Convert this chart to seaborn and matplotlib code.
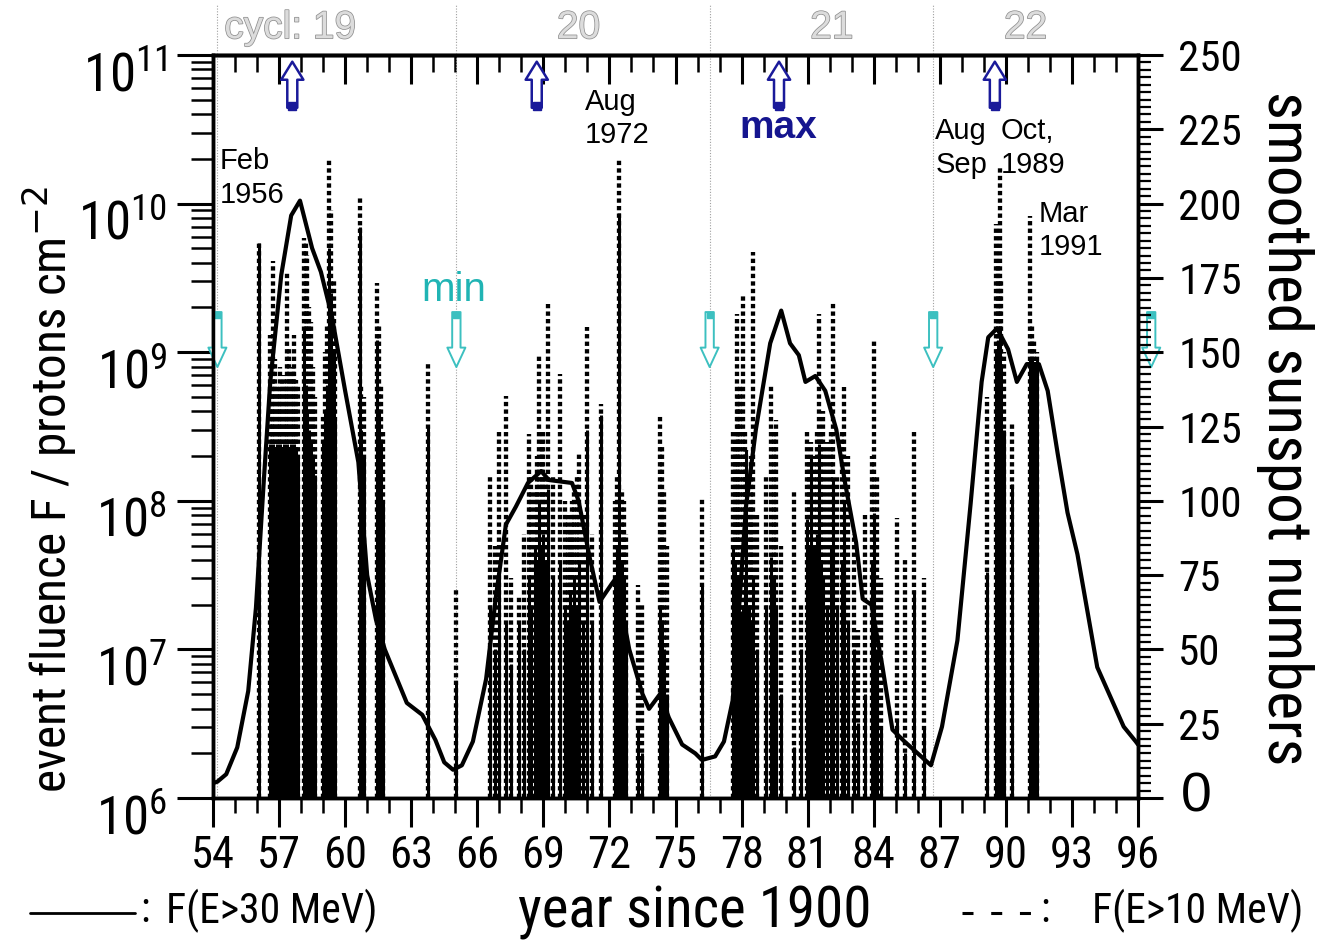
import numpy as np
import pandas as pd
import matplotlib
matplotlib.use('Agg')
import matplotlib.pyplot as plt
import matplotlib.patheffects as pe
from matplotlib import font_manager
from matplotlib.font_manager import FontProperties
from matplotlib.lines import Line2D
from matplotlib.transforms import ScaledTranslation
import seaborn as sns

# ── Smoothed sunspot number (right axis) ─────────────────────
ssn_year = [54.0, 54.2, 54.6, 55.1, 55.6, 55.95, 56.3, 56.6, 57.1, 57.55,
            57.95, 58.5, 58.9, 59.4, 60.0, 60.6, 61.0, 61.4, 61.8, 62.3,
            62.8, 63.5, 64.1, 64.5, 64.9, 65.3, 65.8, 66.4, 66.85, 67.3,
            67.75, 68.3, 68.9, 69.25, 70.3, 70.6, 71.1, 71.55, 72.1, 72.3,
            72.9, 73.5, 73.8, 74.3, 74.7, 75.3, 75.9, 76.2, 76.8, 77.2,
            77.6, 78.2, 78.65, 79.3, 79.8, 80.2, 80.6, 80.9, 81.35, 81.8,
            82.3, 82.7, 83.2, 83.5, 83.9, 84.4, 84.85, 85.4, 86.0, 86.6,
            87.1, 87.8, 88.4, 88.9, 89.2, 89.6, 90.1, 90.5, 90.95, 91.5,
            91.9, 92.35, 92.8, 93.25, 93.7, 94.15, 94.75, 95.35, 95.9, 96.0]
ssn_value = [5, 5.5, 8, 17, 36, 64, 106, 140, 176, 196,
             201, 185, 177, 162, 137, 113, 75, 60, 50, 41,
             32, 28, 19.5, 12, 9.5, 11, 19, 40, 68, 92,
             98, 106, 110, 107, 106, 100, 81, 66, 72, 74,
             50, 35, 30, 35, 27, 18, 15, 12.8, 14, 19,
             33, 98, 124, 153, 164, 153, 149, 140, 142, 137,
             124, 106, 86, 67, 65, 44, 23, 19, 15, 11,
             24, 53, 99, 140, 155, 158, 151, 140, 146, 146,
             137, 116, 96, 82, 63, 44, 34, 24, 19, 18]

# ── Proton events: year, F(E>30 MeV), F(E>10 MeV) ───────────
event_year = [56.10, 56.58, 56.66, 56.74, 56.82, 56.90, 56.98, 57.06, 57.14, 57.22,
              57.30, 57.38, 57.46, 57.54, 57.62, 57.70, 57.78, 57.86, 58.12, 58.20,
              58.28, 58.36, 58.44, 58.52, 58.62, 58.98, 59.08, 59.18, 59.28, 59.38,
              59.48, 59.56, 60.66, 60.74, 60.85, 61.45, 61.55, 61.65, 61.72, 63.75,
              65.05,
              66.60, 66.80, 67.00, 67.30, 67.55, 67.90, 68.10, 68.35, 68.45, 68.60,
              68.72, 68.80, 68.92, 69.00, 69.10, 69.20, 69.45, 69.75, 70.00, 70.12,
              70.20, 70.32, 70.40, 70.52, 70.60, 70.80, 71.00, 71.20, 71.60, 72.25,
              72.35, 72.45, 72.55, 72.65, 72.75, 73.30, 73.50, 74.30, 74.40, 74.50,
              74.60, 76.20,
              77.62, 77.70, 77.78, 77.86, 77.95, 78.05, 78.15, 78.22, 78.32, 78.42,
              78.50, 78.70, 79.10, 79.35, 79.45, 79.55, 79.80, 80.40, 80.70, 80.95,
              81.05, 81.15, 81.30, 81.42, 81.50, 81.62, 81.70, 81.90, 82.05, 82.15,
              82.35, 82.55, 82.65, 82.85, 83.10, 83.30, 83.60, 83.90, 84.00, 84.15,
              84.35, 85.05, 85.40, 85.85, 86.30,
              89.15, 89.55, 89.65, 89.72, 89.80, 89.90, 90.30, 91.10, 91.20, 91.30,
              91.40]
event_f30 = [5.4e9, 2.4e8, 2.0e8, 2.4e8, 2.2e8, 2.4e8, 2.0e8, 2.4e8, 2.2e8, 2.4e8,
             2.0e8, 2.4e8, 2.2e8, 2.4e8, 2.0e8, 2.4e8, 2.2e8, 2.0e8, 1.4e9, 6.0e8,
             4.0e8, 3.0e8, 2.5e8, 2.0e8, 1.5e8, 2.5e8, 4.0e8, 6.0e8, 5.0e9, 2.5e9,
             1.0e9, 3.5e8, 7.0e9, 3.0e8, 2.0e8, 1.2e9, 4.0e8, 2.5e8, 1.0e8, 3.2e8,
             6.0e6,
             2.0e7, 1.0e7, 3.0e7, 1.5e7, 8.0e6, 1.5e7, 1.0e7, 3.0e7, 2.0e7, 5.0e7,
             4.0e7, 1.0e8, 5.0e7, 6.0e7, 4.0e7, 1.2e8, 3.0e7, 4.0e7, 2.0e7, 1.5e7,
             2.5e7, 2.0e7, 3.0e7, 2.0e7, 4.0e7, 1.5e7, 3.0e8, 1.5e7, 3.8e8, 3.0e7,
             5.0e7, 8.6e9, 4.0e7, 3.0e7, 1.5e7, 3.0e6, 2.0e6, 2.0e7, 1.5e7, 1.0e7,
             5.0e6, 2.7e7,
             4.8e7, 4.0e7, 3.0e7, 2.0e7, 1.8e7, 2.0e7, 3.0e7, 2.2e8, 2.0e7, 1.5e7,
             3.0e7, 1.0e7, 2.0e7, 4.2e7, 3.0e7, 2.0e7, 5.0e6, 2.2e6, 1.0e7, 7.5e7,
             5.0e7, 2.0e8, 5.0e7, 6.0e7, 2.4e8, 4.0e7, 3.0e7, 2.0e7, 5.0e7, 1.4e8,
             2.0e7, 4.0e7, 1.0e8, 1.5e7, 1.0e7, 3.2e6, 5.0e6, 4.0e7, 8.3e7, 1.0e7,
             3.0e6, 3.4e6, 2.0e6, 2.5e7, 3.0e6,
             3.3e7, 1.0e9, 1.2e9, 1.5e9, 8.0e8, 3.0e8, 1.3e8, 9.2e8, 9.0e8, 8.0e8,
             9.0e8]
event_f10 = [5.4e9, 1.3e9, 6.5e8, 4.1e9, 9.0e8, 6.0e8, 5.5e8, 8.0e8, 6.2e8, 7.0e8,
             6.0e8, 3.4e9, 1.1e9, 7.0e8, 8.0e8, 1.3e9, 6.5e8, 6.0e8, 5.9e9, 5.5e9,
             4.5e9, 2.0e9, 1.6e9, 8.0e8, 5.0e8, 3.7e8, 1.0e9, 1.5e9, 2.0e10, 9.0e9,
             3.0e9, 1.2e9, 1.1e10, 6.0e8, 5.0e8, 2.9e9, 1.5e9, 6.0e8, 3.0e8, 8.6e8,
             2.5e7,
             1.45e8, 5.0e7, 2.9e8, 5.1e8, 3.0e7, 2.3e7, 6.0e7, 2.8e8, 1.5e8, 1.2e8,
             2.0e8, 9.6e8, 2.5e8, 3.0e8, 1.5e8, 2.1e9, 1.5e8, 7.1e8, 1.0e8, 8.0e7,
             6.7e7, 1.0e8, 1.2e8, 1.5e8, 2.1e8, 8.0e7, 1.47e9, 6.0e7, 4.5e8, 1.0e8,
             1.5e8, 1.97e10, 1.2e8, 1.0e8, 6.0e7, 2.7e7, 2.0e7, 3.7e8, 2.4e8, 1.2e8,
             5.0e7, 1.05e8,
             3.0e8, 2.5e8, 1.8e9, 5.0e8, 6.0e8, 2.4e9, 3.0e8, 2.2e8, 1.0e8, 2.0e8,
             4.7e9, 8.0e7, 1.5e8, 6.0e8, 3.0e8, 3.5e8, 5.0e7, 1.15e8, 2.0e7, 3.0e8,
             2.0e8, 2.5e8, 2.0e8, 3.0e8, 1.8e9, 3.0e8, 4.0e8, 2.5e8, 3.0e8, 2.2e9,
             1.5e8, 3.0e8, 5.8e8, 2.0e8, 6.0e7, 1.35e7, 8.0e7, 2.0e8, 1.2e9, 1.5e8,
             3.0e7, 7.7e7, 4.0e7, 2.9e8, 3.0e7,
             5.0e8, 7.3e9, 4.0e9, 1.8e10, 3.0e9, 1.0e9, 3.4e8, 8.3e9, 1.5e9, 1.2e9,
             1.0e9]

# ── Cycle markers ────────────────────────────────────────────
cycle_labels = ['cycl: 19', '20', '21', '22']
cycle_label_year = [57.5, 70.6, 82.1, 90.9]
min_years = [54.2, 65.05, 76.55, 86.7, 96.6]
max_years = [57.6, 68.7, 79.7, 89.5]

# event notes: text, year (left edge), fluence (top)
note_text = ['Feb\n1956', 'Aug\n1972', 'Aug\nSep', 'Oct,\n1989', 'Mar\n1991']
note_year = [54.32, 70.9, 86.8, 89.76, 91.5]
note_top = [2.4e10, 6.0e10, 3.8e10, 3.8e10, 1.06e10]

# ── Style / fonts ────────────────────────────────────────────
sns.set_style('ticks', {'axes.edgecolor': 'black', 'xtick.color': 'black',
                        'ytick.color': 'black', 'text.color': 'black'})
plt.rcParams['font.family'] = ['Liberation Sans', 'DejaVu Sans']

entries = font_manager.fontManager.ttflist
def regular(f):
    return f.style == 'normal' and f.weight in (400, 'normal', 'regular', 'book')

narrow_path = None
for name in ['Liberation Sans Narrow', 'Arial Narrow', 'Roboto Condensed',
             'Noto Sans Condensed', 'Open Sans Condensed', 'DejaVu Sans Condensed']:
    hit = [f for f in entries if f.name == name and regular(f)]
    if hit:
        narrow_path = hit[0].fname
        break
if narrow_path is None:
    for name in ['Liberation Sans', 'Roboto', 'Noto Sans', 'Open Sans', 'DejaVu Sans']:
        hit = [f for f in entries if f.name == name and regular(f)
               and f.stretch in ('condensed', 'semi-condensed', 'extra-condensed')]
        if hit:
            narrow_path = hit[0].fname
            break

if narrow_path:
    sz = dict(left=38, bottom=32, ylab=35.5, rlab=44, xlab=41, key=30, right=31)
else:
    sz = dict(left=33, bottom=29, ylab=31, rlab=38, xlab=37, key=25, right=27)

def nfont(size):
    if narrow_path:
        return FontProperties(fname=narrow_path, size=size)
    return FontProperties(family='Liberation Sans', size=size)

W, H = 1319, 941
def fx(p):
    return p / W
def fy(p):
    return 1 - p / H

fig = plt.figure(figsize=(W / 100, H / 100), dpi=100)
ax = fig.add_axes([fx(213), fy(798), fx(1138) - fx(213), fy(55) - fy(798)])
ax.set_yscale('log')
ax.set_xlim(54, 96)
ax.set_ylim(1e6, 1e11)

ev = pd.DataFrame({'year': event_year, 'f30': event_f30, 'f10': event_f10})

# F(E>10 MeV) dashed bars, F(E>30 MeV) solid bars
ax.vlines(ev['year'], 1e6, ev['f10'], colors='black', linewidth=3.1,
          linestyles=[(0, (1.0, 0.75))], zorder=2)
ax.vlines(ev['year'], 1e6, ev['f30'], colors='black', linewidth=2.2, zorder=3)

# cycle minimum guide lines
for yr in min_years[:-1]:
    ax.axvline(yr, ymin=0, ymax=1.067, color='#a0a0a0', lw=0.8, ls=(0, (1, 1.5)),
               clip_on=False, zorder=1)

# sunspot curve on the right axis
ax2 = ax.twinx()
ssn = pd.DataFrame({'year': ssn_year, 'ssn': ssn_value})
sns.lineplot(data=ssn, x='year', y='ssn', ax=ax2, color='black', linewidth=3.0,
             legend=False)
ax2.set_ylim(0, 250)
ax2.set_xlim(54, 96)
ax2.set_xlabel('')
ax2.set_ylabel('')

for a in (ax, ax2):
    for s in a.spines.values():
        s.set_linewidth(2.5)
        s.set_color('black')

# x ticks (bottom out, top in)
ax.set_xticks(np.arange(54, 97, 3))
ax.set_xticks(np.arange(54, 97, 1), minor=True)
ax.set_xticklabels([str(v) for v in range(54, 97, 3)], fontproperties=nfont(sz['bottom']))
ax.tick_params(axis='x', which='major', direction='out', length=21, width=2.2, pad=6,
               top=False)
ax.tick_params(axis='x', which='minor', direction='out', length=10.5, width=1.8, top=False)
sec = ax.secondary_xaxis('top')
sec.set_xticks(np.arange(54, 97, 3))
sec.set_xticks(np.arange(54, 97, 1), minor=True)
sec.tick_params(axis='x', which='major', direction='in', length=21, width=2.2, labeltop=False)
sec.tick_params(axis='x', which='minor', direction='in', length=12, width=1.8)
sec.spines['top'].set_linewidth(2.5)

# left log axis
ax.set_yticks([1e6, 1e7, 1e8, 1e9, 1e10, 1e11])
ax.yaxis.set_minor_locator(matplotlib.ticker.LogLocator(base=10, subs=np.arange(2, 10)))
ax.yaxis.set_minor_formatter(matplotlib.ticker.NullFormatter())
ax.tick_params(axis='y', which='major', direction='out', length=26, width=2.2, pad=7)
ax.tick_params(axis='y', which='minor', direction='out', length=16, width=1.8)
shift = ScaledTranslation(0, -16 / 100, fig.dpi_scale_trans)
for lab in ax.get_yticklabels():
    lab.set_fontproperties(nfont(sz['left']))
    lab.set_transform(lab.get_transform() + shift)

# right sunspot axis
ax2.set_yticks(np.arange(0, 251, 25))
ax2.set_yticklabels([''] + [str(v) for v in range(25, 251, 25)],
                    fontproperties=nfont(sz['right']))
ax2.set_yticks(np.arange(0, 251, 2.5), minor=True)
ax2.tick_params(axis='y', which='major', direction='out', length=18, width=2.2, pad=11)
ax2.tick_params(axis='y', which='minor', direction='out', length=9, width=1.6)
ax2.text((1196 - 213) / 925, 0, '0', transform=ax2.transAxes, ha='center', va='center',
         fontsize=40)

# labels
fig.text(fx(50), fy(490), 'event fluence F / protons cm$^{-2}$', rotation=90,
         ha='center', va='center', fontproperties=nfont(sz['ylab']))
fig.text(fx(1285), fy(428), 'smoothed sunspot numbers', rotation=-90,
         ha='center', va='center', fontproperties=nfont(sz['rlab']))
fig.text(fx(695), fy(912), 'year since 1900', ha='center', va='center',
         fontproperties=nfont(sz['xlab']))

# bottom key
fig.add_artist(Line2D([fx(30), fx(135)], [fy(913), fy(913)], color='black', lw=2.0))
fig.text(fx(140), fy(911), ':', ha='left', va='center', fontproperties=nfont(sz['key']))
fig.text(fx(166), fy(911), 'F(E>30 MeV)', ha='left', va='center',
         fontproperties=nfont(sz['key']))
fig.add_artist(Line2D([fx(962), fx(1036)], [fy(913), fy(913)], color='black', lw=2.2,
                      ls=(0, (3.6, 5.8))))
fig.text(fx(1040), fy(911), ':', ha='left', va='center', fontproperties=nfont(sz['key']))
fig.text(fx(1092), fy(911), 'F(E>10 MeV)', ha='left', va='center',
         fontproperties=nfont(sz['key']))

# cycle numbers at the top
for lab, yr in zip(cycle_labels, cycle_label_year):
    ax.text(yr, 1.036, lab, transform=ax.get_xaxis_transform(), ha='center', va='center',
            fontsize=28, color='#dcdcdc', clip_on=False,
            path_effects=[pe.withStroke(linewidth=1.1, foreground='#909090')])

# minimum / maximum arrows
xt = ax.get_xaxis_transform()
for yr in min_years:
    ax.annotate('', xy=(yr, 0.580), xycoords=xt, xytext=(yr, 0.654), textcoords=xt,
                arrowprops=dict(arrowstyle='simple,head_length=0.7,head_width=0.65,tail_width=0.3',
                                fc='white', ec='#3cc0c0', lw=1.4, shrinkA=0, shrinkB=0,
                                mutation_scale=20),
                annotation_clip=False, zorder=6)
    ax.plot([yr], [0.650], marker='s', ms=5, color='#3cc0c0', transform=xt,
            clip_on=False, zorder=7)
for yr in max_years:
    ax.annotate('', xy=(yr, 0.991), xycoords=xt, xytext=(yr, 0.929), textcoords=xt,
                arrowprops=dict(arrowstyle='simple,head_length=0.65,head_width=0.8,tail_width=0.36',
                                fc='white', ec='#1a1a9a', lw=1.8, shrinkA=0, shrinkB=0,
                                mutation_scale=20),
                annotation_clip=False, zorder=6)
    ax.plot([yr], [0.932], marker='s', ms=6, color='#1a1a9a', transform=xt,
            clip_on=False, zorder=7)

ax.text(64.93, 2.62e9, 'min', ha='center', va='center', fontsize=29, color='#20b4b4',
        zorder=8)
ax.text(79.65, 3.23e10, 'max', ha='center', va='center', fontsize=28, color='#15158f',
        fontweight='bold', zorder=8)

for txt, yr, top in zip(note_text, note_year, note_top):
    ax.text(yr, top, txt, ha='left', va='top', fontsize=21, linespacing=1.25, zorder=8)

fig.savefig('out.png', dpi=100)
